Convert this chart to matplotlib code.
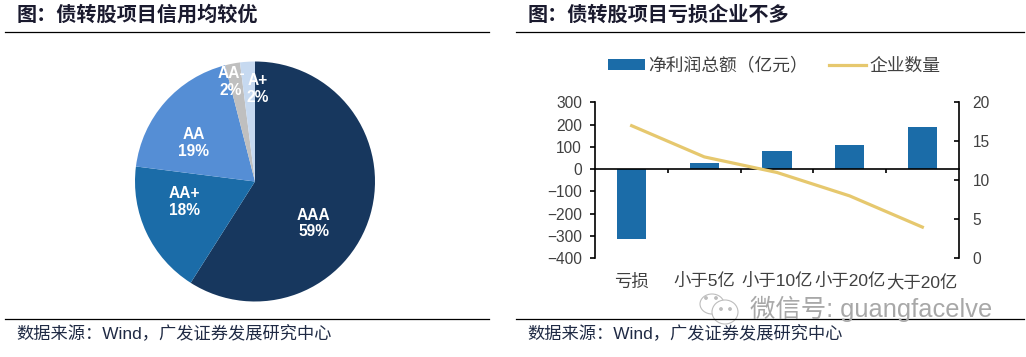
import matplotlib
matplotlib.use('Agg')
import matplotlib.pyplot as plt
from matplotlib.patches import Ellipse, Circle

W, H = 1026, 357
LATIN_CJK = ['Liberation Sans', 'Noto Sans CJK SC']
plt.rcParams['font.family'] = LATIN_CJK

# left chart
ratings = ['AAA', 'AA+', 'AA', 'AA-', 'A+']
shares = [59, 18, 19, 2, 2]
pie_colors = ['#17375E', '#1B6CA8', '#558ED5', '#BFBFBF', '#C6D9F0']
# label offsets from pie centre, in radii
label_x = [0.49, -0.59, -0.51, -0.20, 0.02]
label_y = [-0.35, -0.17, 0.32, 0.83, 0.77]

# right chart
groups = ['亏损', '小于5亿', '小于10亿', '小于20亿', '大于20亿']
profit = [-315, 28, 83, 107, 187]
firms = [17, 13, 11, 8, 4]
left_ticks = [-400, -300, -200, -100, 0, 100, 200, 300]
right_ticks = [0, 5, 10, 15, 20]


def box(x0, y0, x1, y1):
    # pixel box (origin top left) to figure fractions
    return [x0 / W, 1 - y1 / H, (x1 - x0) / W, (y1 - y0) / H]


fig = plt.figure(figsize=(W / 100, H / 100), dpi=100)

# pie
ax1 = fig.add_axes(box(135, 61.5, 375, 301.5))
ax1.pie(shares, colors=pie_colors, startangle=90, counterclock=False, radius=1)
ax1.set_xlim(-1, 1)
ax1.set_ylim(-1, 1)
for name, s, lx, ly in zip(ratings, shares, label_x, label_y):
    ax1.text(lx, ly, f'{name}\n{s}%', color='white', ha='center', va='center',
             fontsize=11.2, fontweight='bold', linespacing=1.15)

# bars and line
ax2 = fig.add_axes(box(595.3, 102.3, 958.7, 258.3))
x = list(range(len(groups)))
bars = ax2.bar(x, profit, width=0.4, color='#1B6CA8', label='净利润总额（亿元）')
ax2.set_xlim(-0.5, 4.5)
ax2.set_ylim(-400, 300)
ax2.set_yticks(left_ticks)
ax2.set_xticks(x)
ax2.set_xticklabels(groups)
ax2.set_xticks([0.5, 1.5, 2.5, 3.5], minor=True)
ax2.spines['top'].set_visible(False)
ax2.spines['right'].set_visible(False)
ax2.spines['bottom'].set_position(('data', 0))
ax2.spines['bottom'].set_linewidth(1.2)
ax2.spines['left'].set_linewidth(1.2)
ax2.tick_params(axis='x', which='major', length=0, pad=75, labelsize=12.5, labelcolor='#404040')
ax2.tick_params(axis='x', which='minor', length=3, width=1.2, direction='out')
ax2.tick_params(axis='y', length=3.5, width=1.2, labelsize=11.2, labelcolor='#404040', pad=6)

ax3 = ax2.twinx()
line, = ax3.plot(x, firms, color='#E6C86E', linewidth=2.3, label='企业数量')
ax3.set_ylim(0, 20)
ax3.set_yticks(right_ticks)
for s in ['top', 'left', 'bottom']:
    ax3.spines[s].set_visible(False)
ax3.spines['right'].set_linewidth(1.2)
ax3.tick_params(axis='y', direction='in', length=3.5, width=1.2, labelsize=11.2,
                labelcolor='#404040', pad=10)

fig.legend([bars, line], ['净利润总额（亿元）', '企业数量'], loc='center',
           bbox_to_anchor=(774 / W, 1 - 66 / H), ncol=2, frameon=False,
           prop={'size': 12.8}, labelcolor='#404040',
           handlelength=2.1, handleheight=0.6, columnspacing=1.15, handletextpad=0.2)

# overlay for titles, rules and watermark, in pixels
over = fig.add_axes([0, 0, 1, 1], facecolor='none')
over.set_xlim(0, W)
over.set_ylim(H, 0)
over.axis('off')

for x0, x1, tx, title in [(5, 489, 17, '图：债转股项目信用均较优'),
                          (516, 1024, 528, '图：债转股项目亏损企业不多')]:
    over.plot([x0, x1], [31.5, 31.5], color='black', lw=0.9)
    over.plot([x0, x1], [318.5, 318.5], color='black', lw=0.9)
    over.text(tx, 15, title, fontsize=14.5, fontweight='bold',
              color='#1A1A2E', va='center', ha='left')
    over.text(tx - 1, 334, '数据来源：Wind，广发证券发展研究中心',
              fontsize=12.4, color='#1F2A44', va='center', ha='left')

# watermark
wm = '#A8A8A8'
over.text(750, 309, '微信号: guangfacelve', fontsize=18.3, color=wm,
          va='center', ha='left')
over.add_patch(Ellipse((712, 304), 24, 20, fill=False, ec='#BDBDBD', lw=0.8))
over.add_patch(Ellipse((725, 312), 26, 24, fc='white', ec='#BDBDBD', lw=0.8))
for cx, cy in [(706, 298), (716, 298), (721, 309), (730, 309)]:
    over.add_patch(Circle((cx, cy), 1.2, color='#BDBDBD'))

fig.savefig('out.png', dpi=100)
